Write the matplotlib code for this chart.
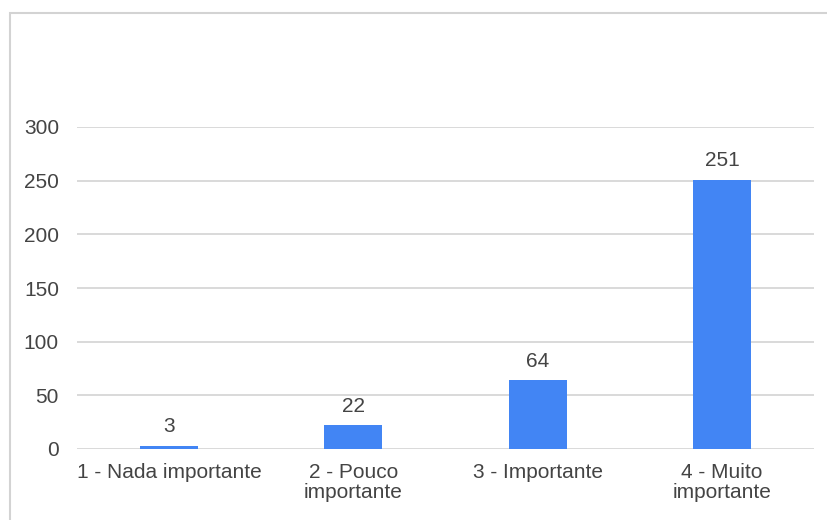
import matplotlib.pyplot as plt
from matplotlib.patches import Rectangle

# dados do gráfico
categorias = ['1 - Nada importante', '2 - Pouco\nimportante', '3 - Importante', '4 - Muito\nimportante']
valores = [3, 22, 64, 251]
marcas_y = [0, 50, 100, 150, 200, 250, 300]

plt.rcParams['font.family'] = ['Liberation Sans', 'DejaVu Sans']

fig = plt.figure(figsize=(8.27, 5.2), dpi=100)
ax = fig.add_axes([77 / 827, 1 - 449 / 520, (814 - 77) / 827, (449 - 127) / 520])

posicoes = range(len(categorias))
barras = ax.bar(posicoes, valores, width=0.315, color='#4285F4', zorder=3)

for b, v in zip(barras, valores):
    ax.annotate(str(v), (b.get_x() + b.get_width() / 2, v), xytext=(0, 7),
                textcoords='offset points', ha='center', va='bottom',
                fontsize=15, color='#444444')

ax.set_xlim(-0.5, len(categorias) - 0.5)
ax.set_ylim(0, 300)
ax.set_yticks(marcas_y)
ax.set_xticks(list(posicoes))
ax.set_xticklabels(categorias, fontsize=15, color='#444444', linespacing=1.1)
ax.tick_params(axis='y', length=0, pad=13, labelsize=15, labelcolor='#444444')
ax.tick_params(axis='x', length=0, pad=10)
ax.grid(axis='y', color='#d9d9d9', linewidth=1.4, zorder=0)
for s in ax.spines.values():
    s.set_visible(False)

# moldura cinza em volta do gráfico
fig.patches.append(Rectangle((10 / 827, -0.1), 1, 1.1 - 13 / 520, transform=fig.transFigure,
                             fill=False, edgecolor='#d3d3d3', linewidth=1.5))

fig.savefig('out.png', dpi=100)
